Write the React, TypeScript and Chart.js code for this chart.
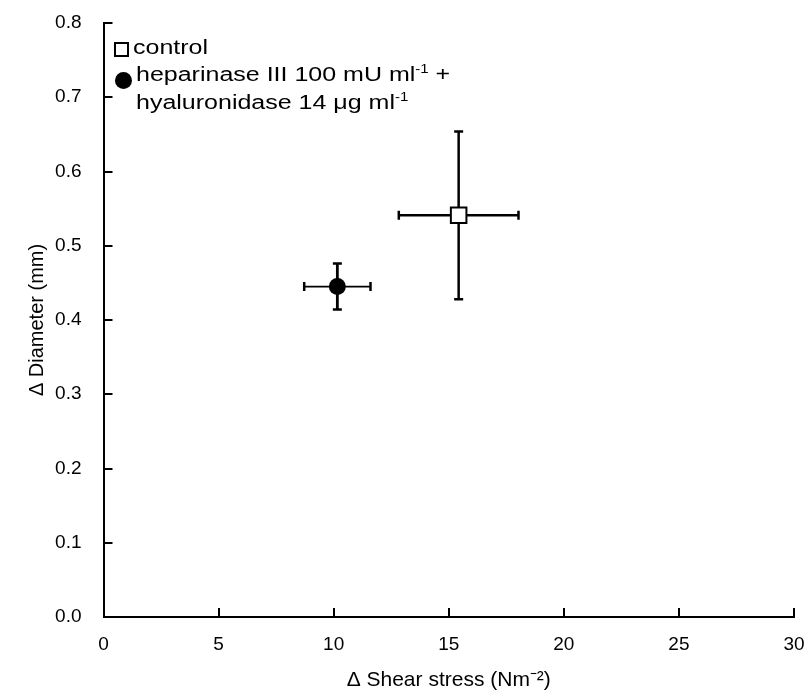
import React, { useEffect, useRef } from 'react';
import { Chart, registerables } from 'chart.js';

Chart.register(...registerables);

// ---- data ----
const seriesLabels = ['control', 'heparinase III 100 mU ml-1 + hyaluronidase 14 μg ml-1'];
const shearStress = [15.43, 10.16];
const shearStressErr = [2.6, 1.44];
const diameterChange = [0.541, 0.445];
const diameterErr = [0.113, 0.031];
const xTickLabels = ['0', '5', '10', '15', '20', '25', '30'];
const yTickLabels = ['0.0', '0.1', '0.2', '0.3', '0.4', '0.5', '0.6', '0.7', '0.8'];

const FONT = "'Liberation Sans', Arial, Helvetica, sans-serif";

const hBarWidths = [2.5, 1.6];
const vBarWidths = [2.5, 2.8];

const errorBarPlugin = {
  id: 'errorBars',
  beforeDatasetsDraw(chart: any) {
    const { ctx, scales } = chart;
    const x = scales.x;
    const y = scales.y;
    ctx.save();
    ctx.strokeStyle = '#000';
    ctx.lineCap = 'butt';
    shearStress.forEach((sx, i) => {
      const px = x.getPixelForValue(sx);
      const py = y.getPixelForValue(diameterChange[i]);
      const xl = x.getPixelForValue(sx - shearStressErr[i]);
      const xr = x.getPixelForValue(sx + shearStressErr[i]);
      const yt = y.getPixelForValue(diameterChange[i] + diameterErr[i]);
      const yb = y.getPixelForValue(diameterChange[i] - diameterErr[i]);
      ctx.lineWidth = hBarWidths[i];
      ctx.beginPath();
      ctx.moveTo(xl, py);
      ctx.lineTo(xr, py);
      ctx.stroke();
      ctx.lineWidth = 2.5;
      ctx.beginPath();
      ctx.moveTo(xl, py - 4.5);
      ctx.lineTo(xl, py + 4.5);
      ctx.moveTo(xr, py - 4.5);
      ctx.lineTo(xr, py + 4.5);
      ctx.stroke();
      ctx.lineWidth = vBarWidths[i];
      ctx.beginPath();
      ctx.moveTo(px, yt);
      ctx.lineTo(px, yb);
      ctx.stroke();
      ctx.lineWidth = 2.5;
      ctx.beginPath();
      ctx.moveTo(px - 4.5, yt);
      ctx.lineTo(px + 4.5, yt);
      ctx.moveTo(px - 4.5, yb);
      ctx.lineTo(px + 4.5, yb);
      ctx.stroke();
    });
    ctx.restore();
  },
};

const inwardTicksPlugin = {
  id: 'inwardTicks',
  afterDraw(chart: any) {
    const { ctx, chartArea, scales } = chart;
    const x = scales.x;
    const y = scales.y;
    ctx.save();
    ctx.strokeStyle = '#000';
    ctx.lineWidth = 2;
    x.ticks.forEach((t: any) => {
      const px = Math.round(x.getPixelForValue(t.value));
      ctx.beginPath();
      ctx.moveTo(px, chartArea.bottom);
      ctx.lineTo(px, chartArea.bottom - 9);
      ctx.stroke();
    });
    y.ticks.forEach((t: any) => {
      const py = Math.round(y.getPixelForValue(t.value));
      ctx.beginPath();
      ctx.moveTo(chartArea.left, py);
      ctx.lineTo(chartArea.left + 9, py);
      ctx.stroke();
    });
    ctx.restore();
  },
};

export default function App() {
  const canvasRef = useRef<HTMLCanvasElement | null>(null);

  useEffect(() => {
    const canvas = canvasRef.current;
    if (!canvas) return;
    const chart = new Chart(canvas, {
      type: 'scatter',
      data: {
        datasets: [
          {
            label: seriesLabels[0],
            data: [{ x: shearStress[0], y: diameterChange[0] }],
            pointStyle: 'rect',
            pointRadius: 11,
            pointHoverRadius: 11,
            backgroundColor: '#fff',
            borderColor: '#000',
            borderWidth: 2,
          },
          {
            label: seriesLabels[1],
            data: [{ x: shearStress[1], y: diameterChange[1] }],
            pointStyle: 'circle',
            pointRadius: 8.5,
            pointHoverRadius: 8.5,
            backgroundColor: '#000',
            borderColor: '#000',
            borderWidth: 0,
          },
        ],
      },
      options: {
        animation: false,
        responsive: false,
        events: [],
        layout: { padding: { left: 0, right: 18, top: 23, bottom: 0 } },
        plugins: {
          legend: { display: false },
          tooltip: { enabled: false },
        },
        scales: {
          x: {
            type: 'linear',
            min: 0,
            max: 30,
            ticks: {
              stepSize: 5,
              color: '#000',
              padding: 16,
              font: { family: FONT, size: 19 },
              callback: (v: any) => xTickLabels[Math.round(Number(v) / 5)] ?? '',
            },
            grid: { display: true, drawOnChartArea: false, drawTicks: false },
            border: { display: true, color: '#000', width: 2 },
            title: {
              display: true,
              text: 'Δ Shear stress (Nm⁻²)',
              color: '#000',
              font: { family: FONT, size: 21 },
              padding: { top: 0, bottom: 1 },
            },
            afterFit: (scale: any) => {
              scale.height = 77;
              scale.paddingLeft = 0;
              scale.paddingRight = 0;
            },
          },
          y: {
            type: 'linear',
            min: 0,
            max: 0.8,
            ticks: {
              stepSize: 0.1,
              color: '#000',
              padding: 22,
              font: { family: FONT, size: 19 },
              callback: (v: any) => yTickLabels[Math.round(Number(v) * 10)] ?? '',
            },
            grid: { display: true, drawOnChartArea: false, drawTicks: false },
            border: { display: true, color: '#000', width: 2 },
            title: {
              display: true,
              text: 'Δ Diameter (mm)',
              color: '#000',
              font: { family: FONT, size: 20 },
              padding: { top: 25, bottom: 0 },
            },
            afterFit: (scale: any) => {
              scale.width = 103.5;
              scale.paddingTop = 0;
              scale.paddingBottom = 0;
            },
          },
        },
      },
      plugins: [errorBarPlugin, inwardTicksPlugin],
    });
    return () => chart.destroy();
  }, []);

  const textStyle: React.CSSProperties = {
    position: 'absolute',
    fontFamily: FONT,
    fontSize: 20,
    lineHeight: '20px',
    color: '#000',
    whiteSpace: 'nowrap',
    transform: 'scaleX(1.25)',
    transformOrigin: 'left center',
  };
  const supStyle: React.CSSProperties = {
    fontSize: 12,
    position: 'relative',
    top: -8,
  };

  return (
    <div style={{ position: 'fixed', left: 0, top: 0, width: 812, height: 694, background: '#fff' }}>
      <canvas ref={canvasRef} width={812} height={694} style={{ display: 'block', width: 812, height: 694 }} />
      <div
        style={{
          position: 'absolute',
          left: 114,
          top: 42,
          width: 15,
          height: 15,
          border: '2px solid #000',
          boxSizing: 'border-box',
          background: '#fff',
        }}
      />
      <div style={{ ...textStyle, left: 133, top: 37 }}>control</div>
      <div
        style={{
          position: 'absolute',
          left: 115,
          top: 72,
          width: 17,
          height: 17,
          borderRadius: '50%',
          background: '#000',
        }}
      />
      <div style={{ ...textStyle, left: 136, top: 64 }}>
        heparinase III 100 mU ml<span style={supStyle}>-1</span> +
      </div>
      <div style={{ ...textStyle, left: 136, top: 92 }}>
        hyaluronidase 14 μg ml<span style={supStyle}>-1</span>
      </div>
    </div>
  );
}
